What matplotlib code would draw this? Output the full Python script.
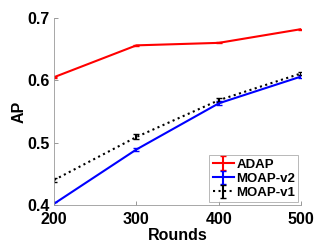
import matplotlib
matplotlib.use("Agg")
import matplotlib.pyplot as plt

rounds = [200, 300, 400, 500]
adap = [0.605, 0.656, 0.660, 0.682]
moap_v2 = [0.402, 0.489, 0.563, 0.606]
moap_v1 = [0.440, 0.509, 0.568, 0.611]
err_adap = [0.001, 0.001, 0.001, 0.001]
err_v2 = [0.003, 0.003, 0.003, 0.002]
err_v1 = [0.003, 0.004, 0.003, 0.002]

plt.rcParams["font.family"] = ["Liberation Sans", "DejaVu Sans"]
plt.rcParams["font.weight"] = "bold"

fig = plt.figure(figsize=(3.32, 2.49), dpi=100)
ax = fig.add_axes([0.163, 0.177, 0.744, 0.751])

ax.errorbar(rounds, adap, yerr=err_adap, color="#ff0000", lw=1.5, capsize=2, label="ADAP")
ax.errorbar(rounds, moap_v2, yerr=err_v2, color="#0000ff", lw=1.5, capsize=2, label="MOAP-v2")
ax.errorbar(rounds, moap_v1, yerr=err_v1, color="black", lw=1.5, ls=":", capsize=2, label="MOAP-v1")

ax.set_xlim(200, 500)
ax.set_ylim(0.4, 0.7)
ax.set_xticks(rounds)
ax.set_yticks([0.4, 0.5, 0.6, 0.7])
ax.set_yticklabels(["0.4", "0.5", "0.6", "0.7"])
ax.tick_params(labelsize=11.5, color="#888888", direction="in", length=3, width=0.6)
ax.tick_params(axis="x", pad=5)
ax.tick_params(axis="y", pad=3.5)
for s in ["top", "right"]:
    ax.spines[s].set_visible(False)
for s in ["left", "bottom"]:
    ax.spines[s].set_color("#999999")
    ax.spines[s].set_linewidth(0.6)

ax.set_xlabel("Rounds", fontsize=11.5, fontweight="bold", labelpad=1)
ax.set_ylabel("AP", fontsize=11.5, fontweight="bold", labelpad=0)

leg = ax.legend(loc="lower right", fontsize=9.5, frameon=True, fancybox=False,
                handlelength=1.6, handletextpad=0.2, borderpad=0.25, labelspacing=0.15,
                borderaxespad=0.2)
leg.get_frame().set_edgecolor("#999999")
leg.get_frame().set_linewidth(0.6)

fig.savefig("out.png", dpi=100)
